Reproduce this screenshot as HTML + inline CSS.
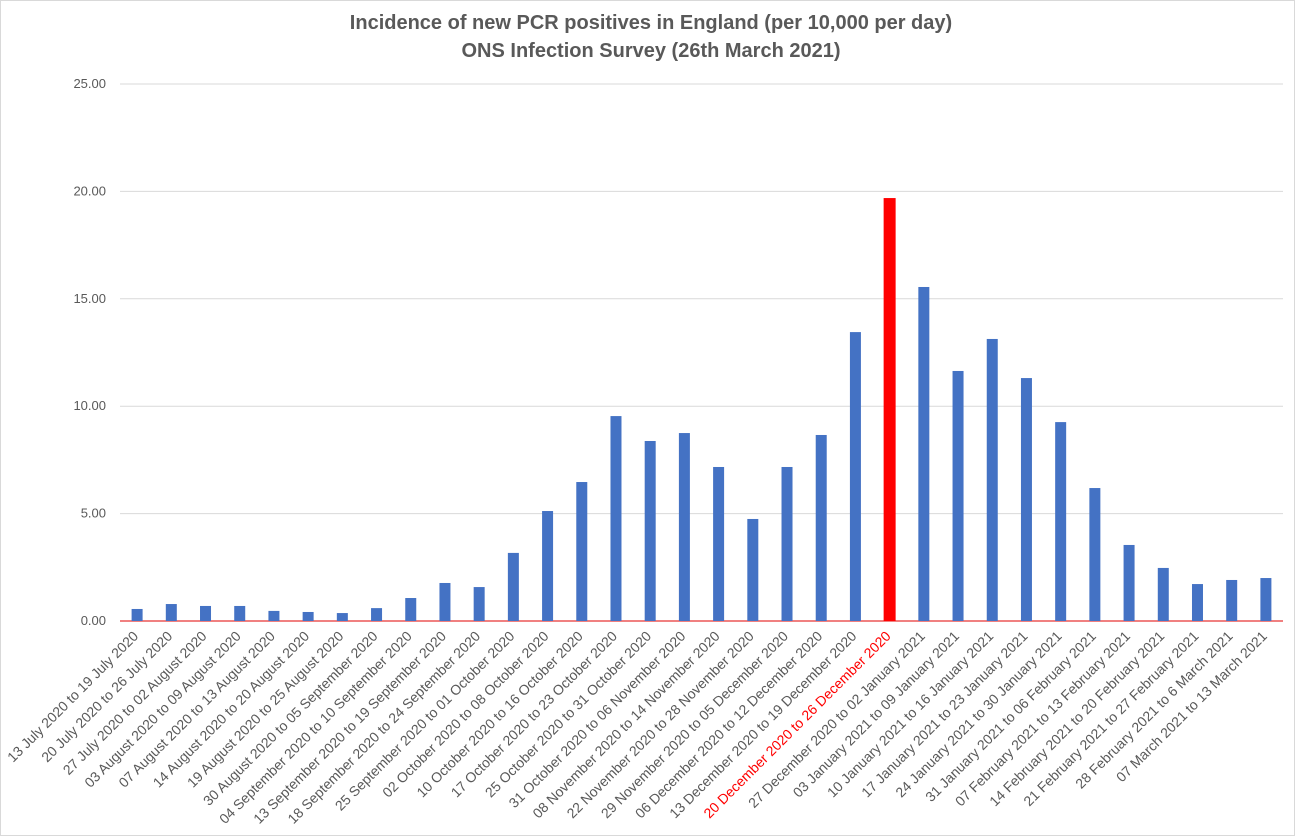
<!DOCTYPE html>
<html><head><meta charset="utf-8"><style>
body{margin:0;background:#fff;}
svg{display:block;font-family:"Liberation Sans",sans-serif;}
</style></head><body>
<svg id="chart" width="1295" height="836" viewBox="0 0 1295 836">
<rect x="0.5" y="0.5" width="1294" height="835" fill="#fff" stroke="#d9d9d9"/>
<text x="651" y="29" text-anchor="middle" font-size="20" font-weight="bold" fill="#595959">Incidence of new PCR positives in England (per 10,000 per day)</text>
<text x="651" y="57" text-anchor="middle" font-size="20" font-weight="bold" fill="#595959">ONS Infection Survey (26th March 2021)</text>
<g id="grid"></g><g id="bars"></g><g id="xlabels"></g>
</svg>
<script>
const categories=["13 July 2020 to 19 July 2020","20 July 2020 to 26 July 2020","27 July 2020 to 02 August 2020","03 August 2020 to 09 August 2020","07 August 2020 to 13 August 2020","14 August 2020 to 20 August 2020","19 August 2020 to 25 August 2020","30 August 2020 to 05 September 2020","04 September 2020 to 10 September 2020","13 September 2020 to 19 September 2020","18 September 2020 to 24 September 2020","25 September 2020 to 01 October 2020","02 October 2020 to 08 October 2020","10 October 2020 to 16 October 2020","17 October 2020 to 23 October 2020","25 October 2020 to 31 October 2020","31 October 2020 to 06 November 2020","08 November 2020 to 14 November 2020","22 November 2020 to 28 November 2020","29 November 2020 to 05 December 2020","06 December 2020 to 12 December 2020","13 December 2020 to 19 December 2020","20 December 2020 to 26 December 2020","27 December 2020 to 02 January 2021","03 January 2021 to 09 January 2021","10 January 2021 to 16 January 2021","17 January 2021 to 23 January 2021","24 January 2021 to 30 January 2021","31 January 2021 to 06 February 2021","07 February 2021 to 13 February 2021","14 February 2021 to 20 February 2021","21 February 2021 to 27 February 2021","28 February 2021 to 6 March 2021","07 March 2021 to 13 March 2021"];
const values=[0.56,0.79,0.70,0.70,0.47,0.42,0.37,0.60,1.07,1.77,1.58,3.17,5.12,6.47,9.54,8.38,8.75,7.17,4.75,7.17,8.66,13.45,19.69,15.55,11.64,13.13,11.31,9.26,6.19,3.54,2.47,1.72,1.91,2.00];
const highlightIndex=22;
const yTicks=[0,5,10,15,20,25];
const yTickLabels=["0.00","5.00","10.00","15.00","20.00","25.00"];
const NS="http://www.w3.org/2000/svg";
const plotL=120,plotR=1283,y0=621,y25=84,yMax=25;
const n=categories.length,step=(plotR-plotL)/n;
function yScale(v){return y0-(v/yMax)*(y0-y25);}
function xCenter(i){return plotL+step*(i+0.5);}
function mk(tag,attrs,parent){const e=document.createElementNS(NS,tag);for(const k in attrs)e.setAttribute(k,attrs[k]);parent.appendChild(e);return e;}
const grid=document.getElementById('grid'),bars=document.getElementById('bars'),xl=document.getElementById('xlabels');
yTicks.forEach((t,i)=>{
  const y=yScale(t);
  if(t!==0){const l=mk('line',{x1:plotL,x2:plotR,y1:y,y2:y,stroke:'#d9d9d9','stroke-width':1},grid);
  
  }
  const tx=mk('text',{x:106,y:y+4,'text-anchor':'end','font-size':13,fill:'#595959'},grid);
  tx.textContent=yTickLabels[i];
  
  
});
values.forEach((v,i)=>{
  const hl=i===highlightIndex,w=hl?12:11;
  const r=mk('rect',{x:xCenter(i)-w/2,y:yScale(v),width:w,height:y0-yScale(v),fill:hl?'#ff0000':'#4472c4'},bars);
  
  
  const cx=xCenter(i)+2,cy=y0+16;
  const t=mk('text',{x:cx,y:cy,'text-anchor':'end','font-size':14,fill:hl?'#ff0000':'#595959',transform:`rotate(-45 ${cx} ${cy})`},xl);
  t.textContent=categories[i];
  
  
});
const ax=mk('line',{x1:plotL,x2:plotR,y1:y0,y2:y0,stroke:'#e00000','stroke-width':1},grid);


</script>
</body></html>
